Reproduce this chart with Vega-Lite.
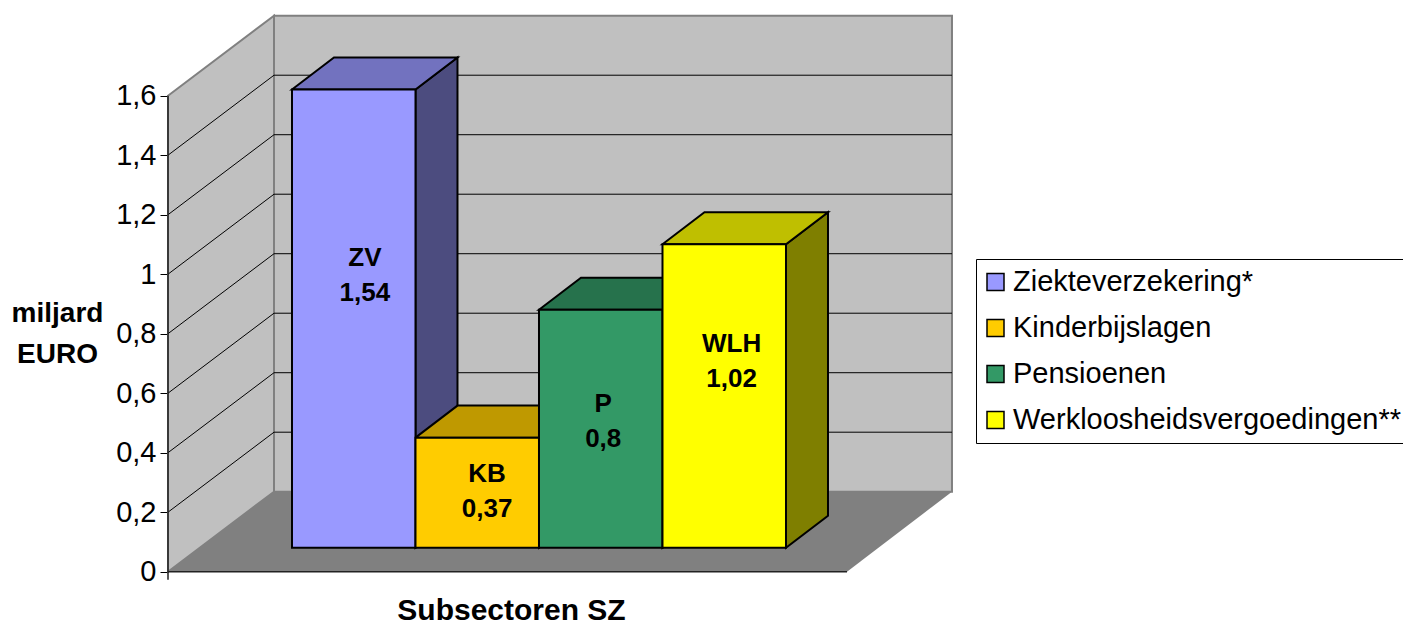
{
"$schema":"https://vega.github.io/schema/vega-lite/v6.json",
"width":1235,"height":623,
"autosize":{"type":"none"},
"padding":{"left":168,"top":0,"right":0,"bottom":0},
"background":"white",
"config":{"view":{"stroke":null},"font":"Liberation Sans"},
"datasets":{
"walls":[
{"part":"left","x":-1.004,"y":1.6,"y2":0},{"part":"left","x":-0.1457,"y":1.8689,"y2":0.2689},
{"part":"back","x":-0.1457,"y":1.8689,"y2":0.2689},{"part":"back","x":5.344,"y":1.8689,"y2":0.2689}],
"floor":[{"part":"floor","x":-1.004,"y":0,"y2":0},{"part":"floor","x":-0.1457,"y":0.2689,"y2":0},{"part":"floor","x":4.494,"y":0.2689,"y2":0},{"part":"floor","x":5.344,"y":0.2689,"y2":0.2689}],
"grid":[
{"t":0.2,"x":-1.004,"y":0.2},{"t":0.2,"x":-0.1457,"y":0.4689},{"t":0.2,"x":5.344,"y":0.4689},
{"t":0.4,"x":-1.004,"y":0.4},{"t":0.4,"x":-0.1457,"y":0.6689},{"t":0.4,"x":5.344,"y":0.6689},
{"t":0.6,"x":-1.004,"y":0.6},{"t":0.6,"x":-0.1457,"y":0.8689},{"t":0.6,"x":5.344,"y":0.8689},
{"t":0.8,"x":-1.004,"y":0.8},{"t":0.8,"x":-0.1457,"y":1.0689},{"t":0.8,"x":5.344,"y":1.0689},
{"t":1.0,"x":-1.004,"y":1.0},{"t":1.0,"x":-0.1457,"y":1.2689},{"t":1.0,"x":5.344,"y":1.2689},
{"t":1.2,"x":-1.004,"y":1.2},{"t":1.2,"x":-0.1457,"y":1.4689},{"t":1.2,"x":5.344,"y":1.4689},
{"t":1.4,"x":-1.004,"y":1.4},{"t":1.4,"x":-0.1457,"y":1.6689},{"t":1.4,"x":5.344,"y":1.6689}],
"frame":[
{"t":"axisY","x":-1.004,"y":1.6},{"t":"axisY","x":-1.004,"y":-0.027},
{"t":"axisX","x":-1.004,"y":0},{"t":"axisX","x":4.494,"y":0}],
"sides":[
{"name":"Ziekteverzekering*","x":1,"y":1.54,"y2":0},{"name":"Ziekteverzekering*","x":1.34,"y":1.6476,"y2":0.1076},
{"name":"Kinderbijslagen","x":2,"y":0.37,"y2":0},{"name":"Kinderbijslagen","x":2.34,"y":0.4776,"y2":0.1076},
{"name":"Pensioenen","x":3,"y":0.8,"y2":0},{"name":"Pensioenen","x":3.34,"y":0.9076,"y2":0.1076},
{"name":"Werkloosheidsvergoedingen**","x":4,"y":1.02,"y2":0},{"name":"Werkloosheidsvergoedingen**","x":4.34,"y":1.1276,"y2":0.1076}],
"tops":[
{"name":"Ziekteverzekering*","x":0,"y":1.54,"y2":1.54},{"name":"Ziekteverzekering*","x":0.34,"y":1.6476,"y2":1.54},{"name":"Ziekteverzekering*","x":1,"y":1.6476,"y2":1.54},{"name":"Ziekteverzekering*","x":1.34,"y":1.6476,"y2":1.6476},
{"name":"Kinderbijslagen","x":1,"y":0.37,"y2":0.37},{"name":"Kinderbijslagen","x":1.34,"y":0.4776,"y2":0.37},{"name":"Kinderbijslagen","x":2,"y":0.4776,"y2":0.37},{"name":"Kinderbijslagen","x":2.34,"y":0.4776,"y2":0.4776},
{"name":"Pensioenen","x":2,"y":0.8,"y2":0.8},{"name":"Pensioenen","x":2.34,"y":0.9076,"y2":0.8},{"name":"Pensioenen","x":3,"y":0.9076,"y2":0.8},{"name":"Pensioenen","x":3.34,"y":0.9076,"y2":0.9076},
{"name":"Werkloosheidsvergoedingen**","x":3,"y":1.02,"y2":1.02},{"name":"Werkloosheidsvergoedingen**","x":3.34,"y":1.1276,"y2":1.02},{"name":"Werkloosheidsvergoedingen**","x":4,"y":1.1276,"y2":1.02},{"name":"Werkloosheidsvergoedingen**","x":4.34,"y":1.1276,"y2":1.1276}],
"bars":[
{"name":"Ziekteverzekering*","code":"ZV","label":"1,54","value":1.54,"x":0,"x2":1,"mid":0.59,"labelAt":0.916},
{"name":"Kinderbijslagen","code":"KB","label":"0,37","value":0.37,"x":1,"x2":2,"mid":1.58,"labelAt":0.19},
{"name":"Pensioenen","code":"P","label":"0,8","value":0.8,"x":2,"x2":3,"mid":2.52,"labelAt":0.425},
{"name":"Werkloosheidsvergoedingen**","code":"WLH","label":"1,02","value":1.02,"x":3,"x2":4,"mid":3.56,"labelAt":0.627}]
},
"encoding":{
"x":{"field":"x","type":"quantitative","scale":{"domain":[-1.004,8.996],"nice":false,"zero":false},
"axis":{"title":"Subsectoren SZ","domain":false,"ticks":false,"labels":false,"grid":false,"titleFont":"Liberation Sans","titleFontSize":30,"titleFontWeight":"bold","titleColor":"black","titleX":343,"titleY":-13,"titleBaseline":"middle","titleAlign":"center"}},
"y":{"field":"y","type":"quantitative","scale":{"domain":[-0.17244,1.9217],"nice":false,"zero":false},
"axis":{"title":["miljard","EURO"],"values":[0,0.2,0.4,0.6,0.8,1,1.2,1.4,1.6],"labelExpr":"replace(format(datum.value,'.1~f'),'.',',')","domain":false,"grid":false,"tickColor":"black","tickSize":8,"tickWidth":1,"labelFontSize":29,"labelColor":"black","labelPadding":4,"labelFont":"Liberation Sans","titleFont":"Liberation Sans","titleFontSize":28,"titleFontWeight":"bold","titleColor":"black","titleAngle":0,"titleAlign":"center","titleBaseline":"middle","titleX":-111,"titleY":313,"titleLineHeight":41}}
},
"layer":[
{"data":{"name":"walls"},"mark":{"type":"area","fill":"#C0C0C0","stroke":"#808080","strokeWidth":2},"encoding":{"y2":{"field":"y2"},"detail":{"field":"part"}}},
{"data":{"name":"floor"},"mark":{"type":"area","fill":"#808080"},"encoding":{"y2":{"field":"y2"}}},
{"data":{"name":"grid"},"mark":{"type":"line","stroke":"black","strokeWidth":1},"encoding":{"detail":{"field":"t"}}},
{"data":{"name":"frame"},"mark":{"type":"line","stroke":"#222222","strokeWidth":1.5},"encoding":{"detail":{"field":"t"},"order":{"field":"y"}}},
{"data":{"name":"sides"},"mark":{"type":"area","stroke":"black","strokeWidth":2,"yOffset":-24,"y2Offset":-24},"encoding":{"y2":{"field":"y2"},"color":{"field":"name","type":"nominal","sort":null,"scale":{"domain":["Ziekteverzekering*","Kinderbijslagen","Pensioenen","Werkloosheidsvergoedingen**"],"range":["#9999FF","#FFCC00","#339966","#FFFF00"]},"legend":{"title":null,"orient":"none","legendX":808,"legendY":259,"padding":2,"clipHeight":42,"fillColor":"white","strokeColor":"black","symbolType":"square","symbolSize":289,"symbolOffset":3,"symbolStrokeColor":"black","symbolStrokeWidth":1.5,"labelFontSize":29,"labelFont":"Liberation Sans","labelColor":"black","labelOffset":3,"rowPadding":4,"labelLimit":500}}}},
{"data":{"name":"sides"},"mark":{"type":"area","fill":"black","fillOpacity":0.5,"yOffset":-24,"y2Offset":-24},"encoding":{"y2":{"field":"y2"},"detail":{"field":"name"}}},
{"data":{"name":"tops"},"mark":{"type":"area","stroke":"black","strokeWidth":2,"yOffset":-24,"y2Offset":-24},"encoding":{"y2":{"field":"y2"},"color":{"field":"name","type":"nominal"}}},
{"data":{"name":"tops"},"mark":{"type":"area","fill":"black","fillOpacity":0.25,"yOffset":-24,"y2Offset":-24},"encoding":{"y2":{"field":"y2"},"detail":{"field":"name"}}},
{"data":{"name":"bars"},"mark":{"type":"bar","stroke":"black","strokeWidth":2,"yOffset":-24,"y2Offset":-24},"encoding":{
"x2":{"field":"x2"},
"y":{"field":"value","type":"quantitative","scale":{"domain":[-0.17244,1.9217],"nice":false,"zero":false}},
"y2":{"datum":0},
"color":{"field":"name","type":"nominal"}}},
{"data":{"name":"bars"},"mark":{"type":"text","font":"Liberation Sans","fontWeight":"bold","fontSize":26,"color":"black","dy":-17.5,"yOffset":-24},"encoding":{"x":{"field":"mid","type":"quantitative","scale":{"domain":[-1.004,8.996],"nice":false,"zero":false}},"y":{"field":"labelAt","type":"quantitative","scale":{"domain":[-0.17244,1.9217],"nice":false,"zero":false}},"text":{"field":"code"}}},
{"data":{"name":"bars"},"mark":{"type":"text","font":"Liberation Sans","fontWeight":"bold","fontSize":26,"color":"black","dy":17.5,"yOffset":-24},"encoding":{"x":{"field":"mid","type":"quantitative","scale":{"domain":[-1.004,8.996],"nice":false,"zero":false}},"y":{"field":"labelAt","type":"quantitative","scale":{"domain":[-0.17244,1.9217],"nice":false,"zero":false}},"text":{"field":"label"}}}
]
}
